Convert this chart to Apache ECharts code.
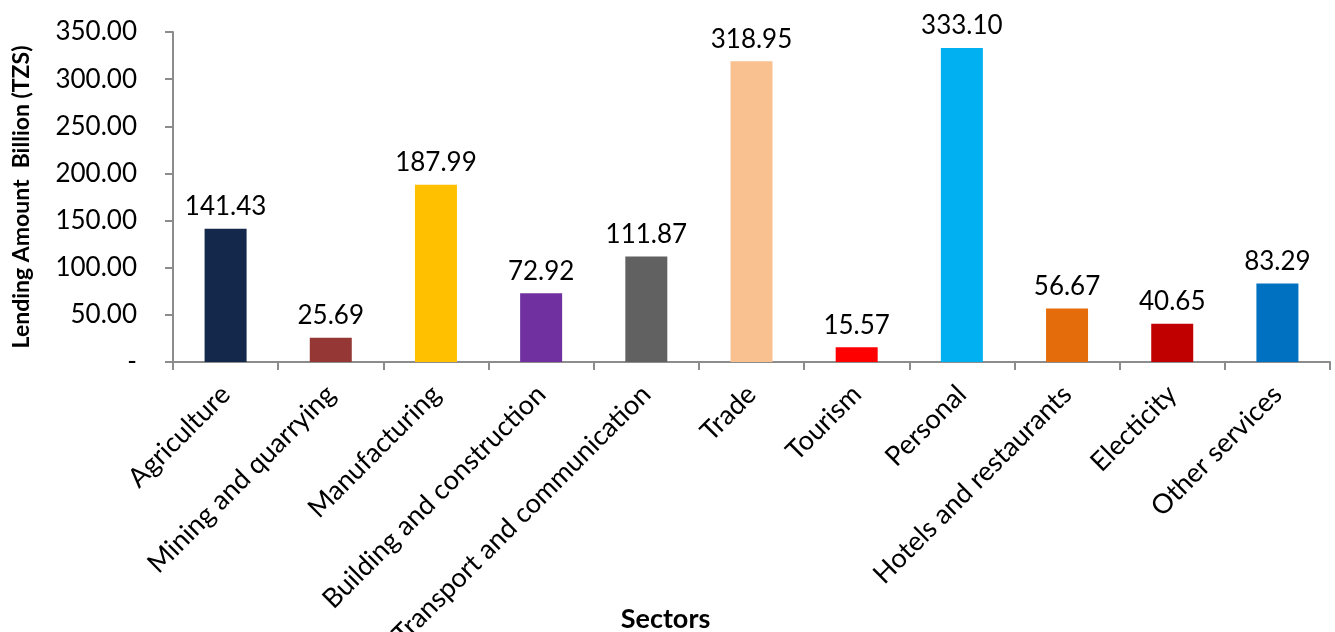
<!DOCTYPE html>
<html>
<head>
<meta charset="utf-8">
<script src="https://cdn.jsdelivr.net/npm/echarts@6/dist/echarts.min.js"></script>
<style>
  html, body { margin: 0; padding: 0; background: #fff; }
  #chart { width: 1335px; height: 632px; }
</style>
</head>
<body>
<div id="chart"></div>
<script>
// 行业分类
let sectors = ['Agriculture', 'Mining and quarrying', 'Manufacturing', 'Building and construction',
    'Transport and communication', 'Trade', 'Tourism', 'Personal', 'Hotels and restaurants',
    'Electicity', 'Other services'];
// 贷款金额（十亿 TZS）
let lending = [141.43, 25.69, 187.99, 72.92, 111.87, 318.95, 15.57, 333.10, 56.67, 40.65, 83.29];
let barColors = ['#14284b', '#953735', '#ffc000', '#7030a0', '#616161', '#f9c090',
    '#ff0000', '#00b0f0', '#e46c0a', '#c00000', '#0070c0'];

let font = 'Lato, "Open Sans", sans-serif';

let chart = echarts.init(document.getElementById('chart'));
chart.setOption({
    animation: false,
    grid: { left: 173, right: 5, top: 32, bottom: 270, containLabel: false, outerBoundsMode: 'none' },
    xAxis: {
        type: 'category',
        data: sectors,
        name: 'Sectors',
        nameLocation: 'middle',
        nameGap: 244,
        nameMoveOverlap: false,
        nameTextStyle: { fontFamily: font, fontWeight: 'bold', fontSize: 27, color: '#000', padding: [0, 172, 0, 0] },
        axisLine: { lineStyle: { color: '#8c8c8c', width: 2 } },
        axisTick: { show: true, length: 8, lineStyle: { color: '#8c8c8c', width: 2 } },
        axisLabel: { rotate: 45, margin: 28, fontFamily: font, fontSize: 27, color: '#000', interval: 0 }
    },
    yAxis: {
        type: 'value',
        min: 0,
        max: 350,
        interval: 50,
        name: 'Lending Amount  Billion (TZS)',
        nameLocation: 'middle',
        nameGap: 140,
        nameMoveOverlap: false,
        nameTextStyle: { fontFamily: font, fontWeight: 'bold', fontSize: 23, color: '#000' },
        splitLine: { show: false },
        axisLine: { show: true, lineStyle: { color: '#8c8c8c', width: 2 } },
        axisTick: { show: true, length: 8, lineStyle: { color: '#8c8c8c', width: 2 } },
        axisLabel: {
            margin: 36, fontFamily: font, fontSize: 26, color: '#000',
            formatter: function (v) { return v === 0 ? '-' : v.toFixed(2); }
        }
    },
    series: [{
        type: 'bar',
        data: lending.map(function (v, i) {
            return { value: v, itemStyle: { color: barColors[i] } };
        }),
        barWidth: 42,
        label: {
            show: true,
            position: 'top',
            distance: 9,
            fontFamily: font,
            fontSize: 26,
            color: '#000',
            formatter: function (p) { return p.value.toFixed(2); }
        }
    }]
});
</script>
</body>
</html>
